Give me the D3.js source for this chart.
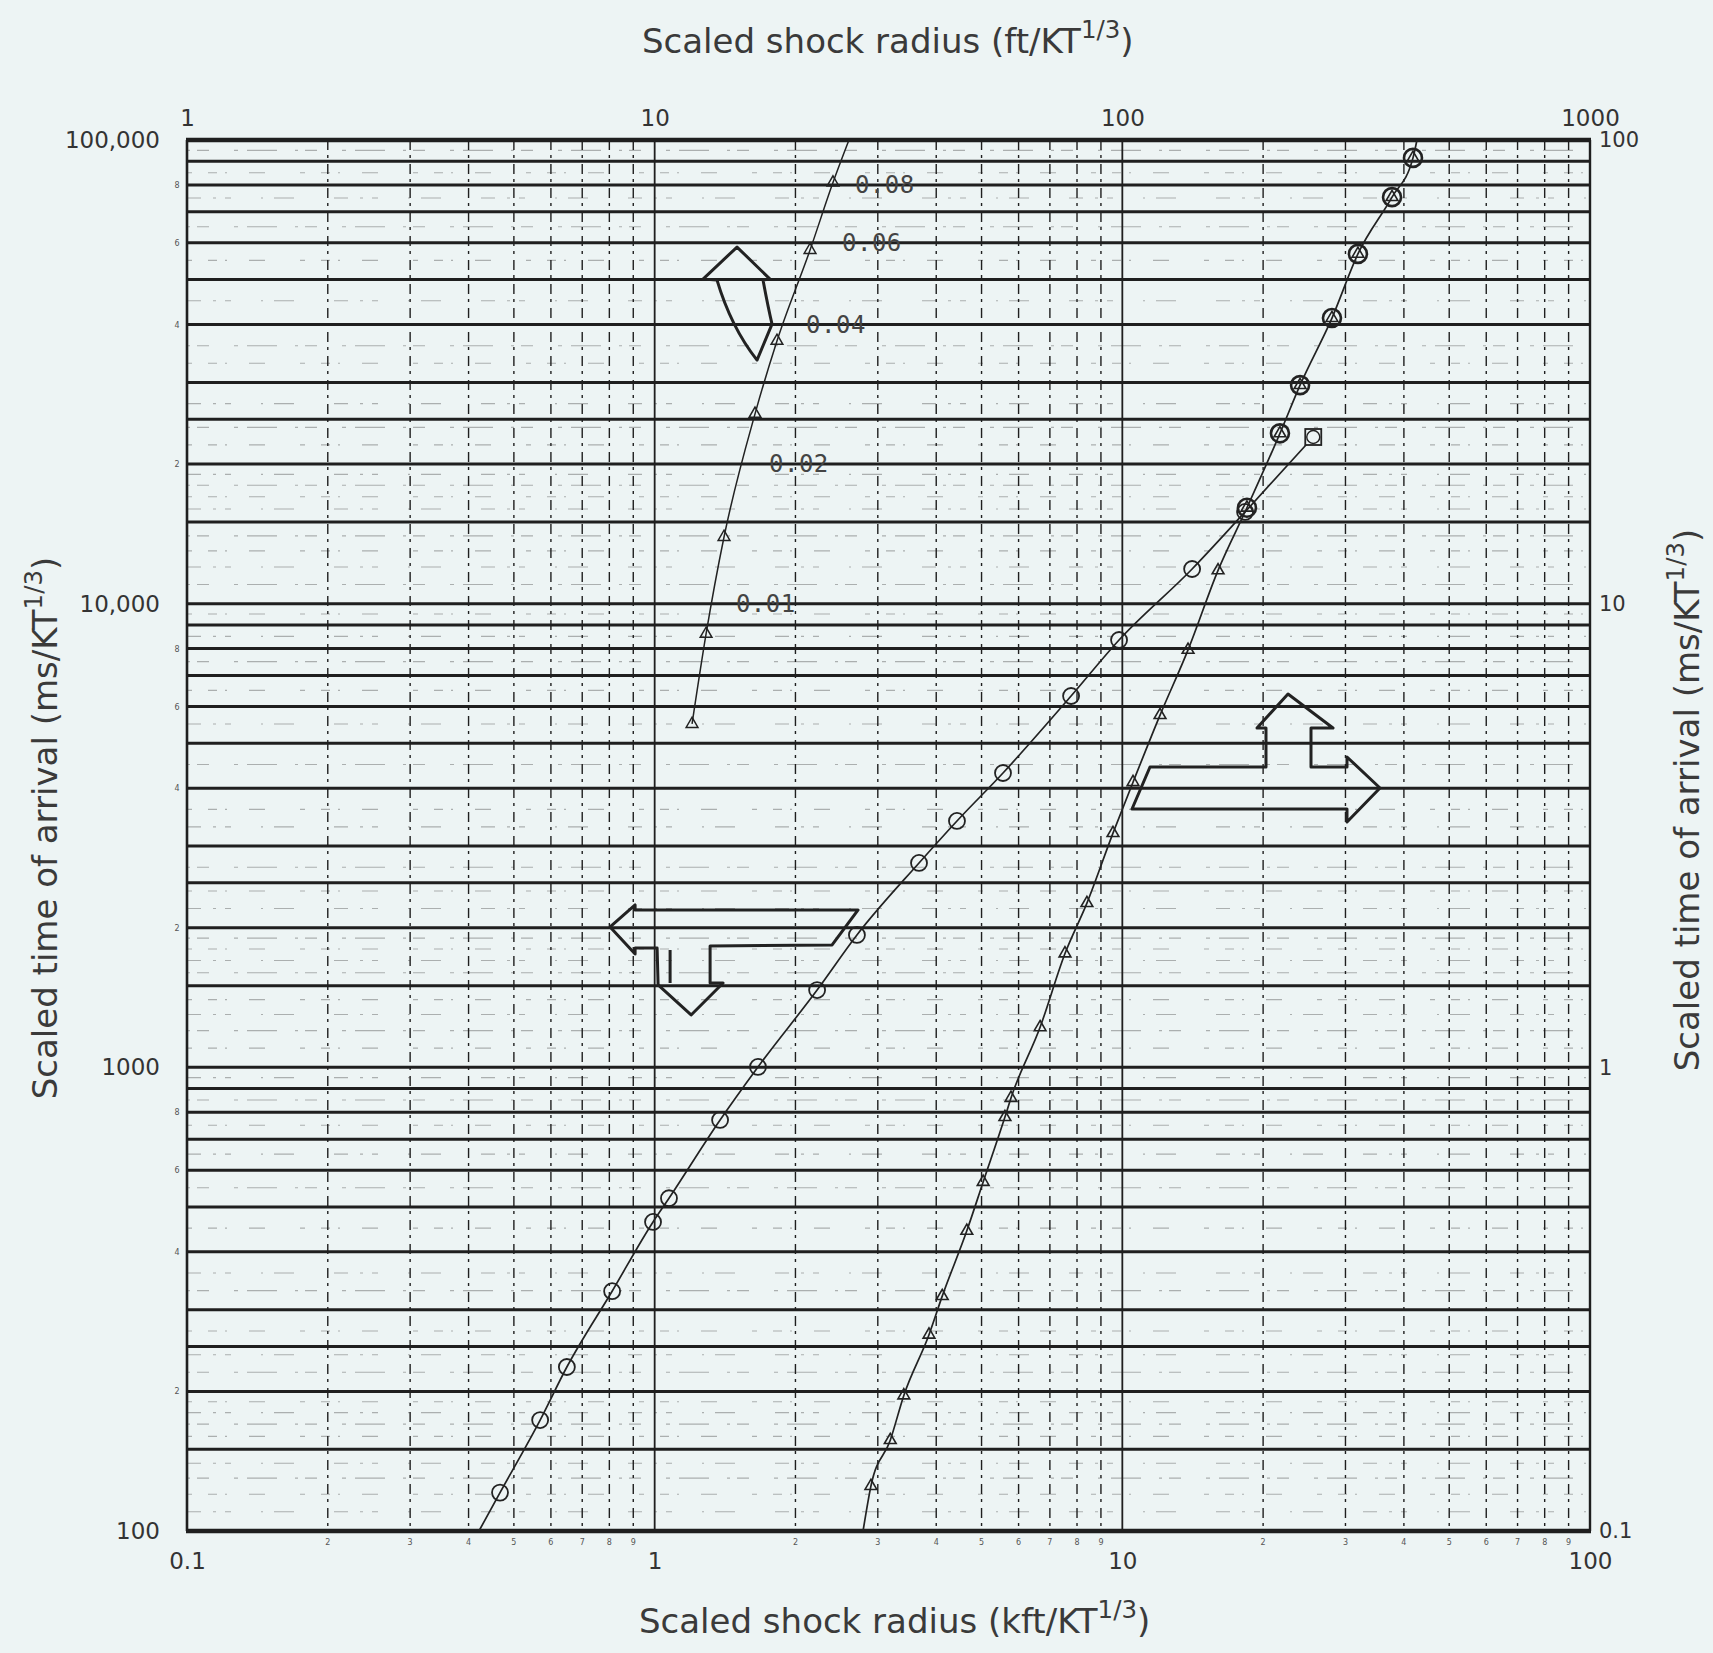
<!DOCTYPE html>
<html>
<head>
<meta charset="utf-8">
<script src="https://cdn.jsdelivr.net/npm/d3@7"></script>
<style>
  body { margin: 0; background: #edf4f4; }
  svg { display: block; }
  .tick-label { font-family: "DejaVu Sans", sans-serif; fill: #333; }
  .title { font-family: "DejaVu Sans", sans-serif; fill: #3a3a3a; font-size: 34px; }
  .curve-label { font-family: "DejaVu Sans Mono", monospace; fill: #444; font-size: 24px; letter-spacing: 0.5px; }
</style>
</head>
<body>
<svg id="chart" width="1713" height="1653"></svg>
<script>
// circle series: bottom axis (kft/KT^1/3) against left axis (ms/KT^1/3)
const circleKft = [0.467, 0.569, 0.649, 0.811, 0.992, 1.073, 1.38, 1.663, 2.225, 2.707, 3.675, 4.43, 5.557, 7.77, 9.84, 14.1, 18.3];
const circleMs  = [121, 173.5, 225.8, 329, 464, 522, 770, 1002, 1468, 1930, 2759, 3399, 4313, 6322, 8350, 11880, 15770];
const circleLineStart = [0.421, 100];
const squarePoint = [25.6, 22880];

// triangle series, lower right: top axis (ft/KT^1/3) against right axis (ms/KT^1/3)
const triFt = [29.0, 31.9, 34.1, 38.6, 41.2, 46.5, 50.4, 56.1, 57.8, 66.7, 75.4, 84.0, 95.5, 105.4, 120.4, 138.2, 160.2, 184.7, 217.3, 239.9, 280.7, 319.0, 377.3, 418.3];
const triMs = [0.125, 0.157, 0.196, 0.265, 0.321, 0.444, 0.566, 0.781, 0.859, 1.22, 1.76, 2.26, 3.20, 4.12, 5.75, 7.95, 11.8, 16.1, 23.3, 29.6, 41.3, 56.8, 75.3, 91.5];
const triRinged = [0,0,0,0,0,0,0,0,0,0,0,0,0,0,0,0,0,1,1,1,1,1,1,1];
const triLineStart = [27.9, 0.1];
const triLineEnd = [426.6, 100];

// triangle series, upper left: top axis (ft/KT^1/3) against left axis (ms/KT^1/3)
const upperFt = [12.02, 12.88, 14.07, 16.39, 18.26, 21.49, 24.06];
const upperMs = [5502, 8603, 13925, 25660, 36860, 57900, 80950];
const upperLineEnd = [26.03, 100000];
const upperLabels = ["0.01", "0.02", "0.04", "0.06", "0.08"];
const upperLabelMs = [10000, 20000, 40000, 60000, 80000];
const upperLabelFt = [14.92, 17.56, 21.07, 25.15, 26.8];

// axis ticks
const leftTicks = [100, 1000, 10000, 100000];
const rightTicks = [0.1, 1, 10, 100];
const bottomTicks = [0.1, 1, 10, 100];
const topTicks = [1, 10, 100, 1000];
const gridMultipliers = [1, 1.5, 2, 2.5, 3, 4, 5, 6, 7, 8, 9];
const fineMultipliers = [1.1, 1.2, 1.3, 1.4, 1.6, 1.7, 1.8, 1.9, 2.2, 2.4, 2.7, 3.3, 3.6, 4.5, 5.5, 6.5, 7.5, 8.5, 9.5];
const minorX = [2, 3, 4, 5, 6, 7, 8, 9];

const svg = d3.select('#chart');
const L = 187, R = 1590, T = 140, B = 1531;

const xBot = d3.scaleLog().domain([0.1, 100]).range([L, R]);
const xTop = d3.scaleLog().domain([1, 1000]).range([L, R]);
const yLeft = d3.scaleLog().domain([100, 100000]).range([B, T]);
const yRight = d3.scaleLog().domain([0.1, 100]).range([B, T]);

svg.append('rect').attr('width', 1713).attr('height', 1653).attr('fill', '#edf4f4');

const grid = svg.append('g').attr('stroke', '#1f1f1f');
const decades = [100, 1000, 10000];

// fine broken rows of the graph paper (only partly printed in the scan)
const fineRows = decades.flatMap(d => fineMultipliers.map(m => m * d));
grid.selectAll('line.fine').data(fineRows).join('line')
    .attr('class', 'fine')
    .attr('x1', L).attr('x2', R)
    .attr('y1', d => yLeft(d)).attr('y2', d => yLeft(d))
    .attr('stroke-width', 1.1)
    .attr('stroke-opacity', 0.32)
    .attr('stroke-dasharray', (d, i) => ['14,12,3,9,6,30,2,11,20,40', '5,16,9,8,2,22,16,35', '3,7,12,25,4,9,30,18'][i % 3]);

// vertical dashed lines at 2..9, solid at the decades
const xMinor = [0.1, 1, 10].flatMap(d => minorX.map(m => m * d));
grid.selectAll('line.vminor').data(xMinor).join('line')
    .attr('class', 'vminor')
    .attr('x1', d => xBot(d)).attr('x2', d => xBot(d))
    .attr('y1', T).attr('y2', B)
    .attr('stroke-width', 1.4)
    .attr('stroke-dasharray', '10,5,3,6');
grid.selectAll('line.vmajor').data([1, 10]).join('line')
    .attr('class', 'vmajor')
    .attr('x1', d => xBot(d)).attr('x2', d => xBot(d))
    .attr('y1', T).attr('y2', B)
    .attr('stroke-width', 1.8);

// heavy horizontal rules
const rows = decades.flatMap(d => gridMultipliers.map(m => m * d)).filter(v => v > 100);
grid.selectAll('line.hmajor').data(rows).join('line')
    .attr('class', 'hmajor')
    .attr('x1', L).attr('x2', R)
    .attr('y1', d => yLeft(d)).attr('y2', d => yLeft(d))
    .attr('stroke-width', 3);

// frame
grid.append('line').attr('x1', L - 1).attr('x2', R + 1).attr('y1', T).attr('y2', T).attr('stroke-width', 4.5);
grid.append('line').attr('x1', L - 1).attr('x2', R + 1).attr('y1', B).attr('y2', B).attr('stroke-width', 4.5);
grid.append('line').attr('x1', L).attr('x2', L).attr('y1', T).attr('y2', B).attr('stroke-width', 2.6);
grid.append('line').attr('x1', R).attr('x2', R).attr('y1', T).attr('y2', B).attr('stroke-width', 2.4);

// axes (labels only)
function styleAxis(g, size) {
    g.select('.domain').remove();
    g.selectAll('.tick line').remove();
    g.selectAll('text').attr('class', 'tick-label').style('font-size', size + 'px').attr('fill', '#333');
}
svg.append('g').attr('transform', `translate(${L},0)`)
    .call(d3.axisLeft(yLeft).tickValues(leftTicks).tickSize(0).tickPadding(27)
        .tickFormat(d => d >= 10000 ? d3.format(',')(d) : String(d)))
    .call(g => styleAxis(g, 23));
svg.append('g').attr('transform', `translate(${R},0)`)
    .call(d3.axisRight(yRight).tickValues(rightTicks).tickSize(0).tickPadding(9)
        .tickFormat(d => String(d)))
    .call(g => styleAxis(g, 21));
svg.append('g').attr('transform', `translate(0,${B})`)
    .call(d3.axisBottom(xBot).tickValues(bottomTicks).tickSize(0).tickPadding(22)
        .tickFormat(d => String(d)))
    .call(g => styleAxis(g, 23));
svg.append('g').attr('transform', `translate(0,${T})`)
    .call(d3.axisTop(xTop).tickValues(topTicks).tickSize(0).tickPadding(14)
        .tickFormat(d => String(d)))
    .call(g => styleAxis(g, 23));

// tiny minor tick numerals under the bottom axis and beside the left axis
svg.append('g').selectAll('text').data(xMinor).join('text')
    .attr('x', d => xBot(d)).attr('y', B + 14)
    .attr('text-anchor', 'middle')
    .attr('font-family', 'DejaVu Sans').attr('font-size', 8).attr('fill', '#555')
    .text(d => Math.round(d / Math.pow(10, Math.floor(Math.log10(d) + 1e-9))));
const leftSmall = decades.flatMap(d => [2, 4, 6, 8].map(m => m * d));
svg.append('g').selectAll('text').data(leftSmall).join('text')
    .attr('x', L - 10).attr('y', d => yLeft(d) + 3)
    .attr('text-anchor', 'middle')
    .attr('font-family', 'DejaVu Sans').attr('font-size', 8).attr('fill', '#555')
    .text(d => Math.round(d / Math.pow(10, Math.floor(Math.log10(d) + 1e-9))));

// titles
function titleWithSup(sel, main) {
    sel.append('tspan').text(main);
    sel.append('tspan').attr('font-size', '0.72em').attr('dy', '-0.6em').text('1/3');
    sel.append('tspan').attr('dy', '0.43em').text(')');
}
svg.append('text').attr('class', 'title').attr('x', 642).attr('y', 53)
    .call(s => titleWithSup(s, 'Scaled shock radius (ft/KT'));
svg.append('text').attr('class', 'title').attr('x', 639).attr('y', 1633)
    .call(s => titleWithSup(s, 'Scaled shock radius (kft/KT'));
svg.append('text').attr('class', 'title')
    .attr('transform', 'translate(57,828) rotate(-90)').attr('text-anchor', 'middle')
    .call(s => titleWithSup(s, 'Scaled time of arrival (ms/KT'));
svg.append('text').attr('class', 'title')
    .attr('transform', 'translate(1699,800) rotate(-90)').attr('text-anchor', 'middle')
    .call(s => titleWithSup(s, 'Scaled time of arrival (ms/KT'));

// curves
const ink = '#222';
const line = d3.line().curve(d3.curveMonotoneX);
const plot = svg.append('g');

const circlePts = circleKft.map((v, i) => [xBot(v), yLeft(circleMs[i])]);
plot.append('path')
    .attr('d', line([[xBot(circleLineStart[0]), yLeft(circleLineStart[1])], ...circlePts, [xBot(squarePoint[0]), yLeft(squarePoint[1])]]))
    .attr('fill', 'none').attr('stroke', ink).attr('stroke-width', 1.7);

const triPts = triFt.map((v, i) => [xTop(v), yRight(triMs[i])]);
plot.append('path')
    .attr('d', line([[xTop(triLineStart[0]), yRight(triLineStart[1])], ...triPts, [xTop(triLineEnd[0]), yRight(triLineEnd[1])]]))
    .attr('fill', 'none').attr('stroke', ink).attr('stroke-width', 1.7);

const upperPts = upperFt.map((v, i) => [xTop(v), yLeft(upperMs[i])]);
plot.append('path')
    .attr('d', line([...upperPts, [xTop(upperLineEnd[0]), yLeft(upperLineEnd[1])]]))
    .attr('fill', 'none').attr('stroke', ink).attr('stroke-width', 1.5);

// markers
plot.selectAll('circle.pt').data(circlePts).join('circle')
    .attr('class', 'pt')
    .attr('cx', d => d[0]).attr('cy', d => d[1]).attr('r', 8)
    .attr('fill', 'none').attr('stroke', ink).attr('stroke-width', 1.8);

const tri = d3.symbol(d3.symbolTriangle).size(60);
plot.selectAll('path.tri').data(triPts).join('path')
    .attr('class', 'tri')
    .attr('transform', d => `translate(${d[0]},${d[1]})`)
    .attr('d', tri)
    .attr('fill', 'none').attr('stroke', ink).attr('stroke-width', 1.6);
plot.selectAll('circle.ring').data(triPts.filter((d, i) => triRinged[i])).join('circle')
    .attr('class', 'ring')
    .attr('cx', d => d[0]).attr('cy', d => d[1]).attr('r', 9)
    .attr('fill', 'none').attr('stroke', ink).attr('stroke-width', 2.6);

plot.selectAll('path.utri').data(upperPts).join('path')
    .attr('class', 'utri')
    .attr('transform', d => `translate(${d[0]},${d[1]})`)
    .attr('d', tri)
    .attr('fill', 'none').attr('stroke', ink).attr('stroke-width', 1.5);

// square end marker
const sq = [xBot(squarePoint[0]), yLeft(squarePoint[1])];
plot.append('rect').attr('x', sq[0] - 8).attr('y', sq[1] - 8).attr('width', 16).attr('height', 16)
    .attr('fill', '#edf4f4').attr('stroke', ink).attr('stroke-width', 1.8);
plot.append('circle').attr('cx', sq[0]).attr('cy', sq[1]).attr('r', 6.5)
    .attr('fill', 'none').attr('stroke', ink).attr('stroke-width', 1.4);

// labels along the upper-left curve
plot.selectAll('text.cl').data(upperLabels).join('text')
    .attr('class', 'curve-label')
    .attr('x', (d, i) => xTop(upperLabelFt[i]))
    .attr('y', (d, i) => yLeft(upperLabelMs[i]) + 8)
    .text(d => d);

// outline arrows telling which axes go with which curve (anchor in data units, shape in px)
const arrows = [
    { x: xTop(15.0), y: yLeft(58760),
      d: 'M0,0 L33,32 L26,33 Q31,60 35,77 L20,113 Q-6,80 -20,33 L-34,32 Z' },
    { x: xBot(0.803), y: yLeft(2008),
      d: 'M0,0 L25,-22 L25,-17 L248,-17 L222,18 L100,19 L100,56 L113,56 L81,88 L48,58 L47,21 L25,21 L25,27 Z M60,23 L60,56' },
    { x: xTop(355.6), y: yRight(4.004),
      d: 'M-230,-21 L-114,-21 L-114,-60 L-123,-60 L-92,-94 L-47,-60 L-69,-60 L-69,-21 L-33,-21 L-33,-31 L0,0 L-33,34 L-33,21 L-248,21 Z' }
];
plot.selectAll('path.arrow').data(arrows).join('path')
    .attr('class', 'arrow')
    .attr('transform', d => `translate(${d.x},${d.y})`)
    .attr('d', d => d.d)
    .attr('fill', 'none').attr('stroke', ink).attr('stroke-width', 3).attr('stroke-linejoin', 'round');
</script>
</body>
</html>
